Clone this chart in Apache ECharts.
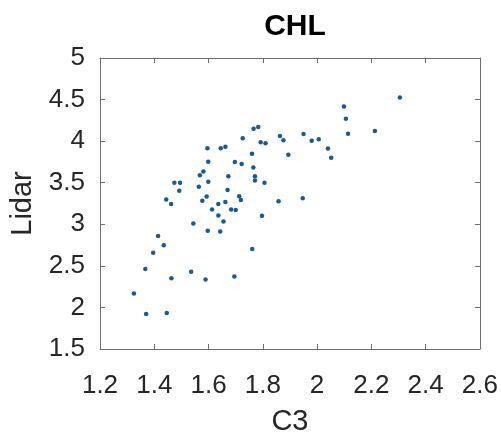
<!DOCTYPE html>
<html>
<head>
<meta charset="utf-8">
<script src="https://cdn.jsdelivr.net/npm/echarts@6/dist/echarts.min.js"></script>
<style>html,body{margin:0;padding:0;background:#fff;}#c{width:501px;height:441px;}</style>
</head>
<body>
<div id="c"></div>
<script>
const titleText = "CHL";
const xName = "C3";
const yName = "Lidar";
const xTicks = [1.2, 1.4, 1.6, 1.8, 2.0, 2.2, 2.4, 2.6];
const yTicks = [1.5, 2, 2.5, 3, 3.5, 4, 4.5, 5];
const c3 = [2.305, 2.099, 2.106, 2.114, 2.213, 1.980, 2.006, 2.040, 2.052, 1.950,
  1.863, 1.876, 1.894, 1.766, 1.783, 1.726, 1.792, 1.810, 1.760, 1.645,
  1.662, 1.596, 1.599, 1.697, 1.722, 1.765, 1.581, 1.568, 1.673, 1.771,
  1.771, 1.806, 1.474, 1.495, 1.599, 1.492, 1.564, 1.670, 1.713, 1.719,
  1.593, 1.444, 1.462, 1.577, 1.636, 1.662, 1.858, 1.947, 1.613, 1.683,
  1.700, 1.636, 1.655, 1.797, 1.544, 1.597, 1.643, 1.414, 1.435, 1.396,
  1.761, 1.367, 1.536, 1.463, 1.589, 1.695, 1.325, 1.370, 1.446];
const lidar = [4.524, 4.416, 4.268, 4.089, 4.122, 4.006, 4.023, 3.913, 3.800, 4.086,
  4.062, 4.011, 3.835, 4.148, 4.169, 4.035, 3.987, 3.975, 3.847, 3.915,
  3.934, 3.915, 3.752, 3.748, 3.724, 3.684, 3.636, 3.591, 3.579, 3.579,
  3.527, 3.501, 3.501, 3.501, 3.511, 3.403, 3.450, 3.412, 3.337, 3.292,
  3.334, 3.298, 3.245, 3.283, 3.245, 3.268, 3.278, 3.313, 3.179, 3.179,
  3.173, 3.107, 3.033, 3.104, 3.010, 2.922, 2.914, 2.859, 2.749, 2.658,
  2.704, 2.463, 2.430, 2.350, 2.335, 2.371, 2.167, 1.920, 1.934];

const pts = c3.map((x, i) => [x, lidar[i]]);
const FONT = "Liberation Sans";
const axisColor = "#6e6e6e";
const labelColor = "#262626";
const xmin = xTicks[0], xmax = xTicks[xTicks.length - 1];
const ymin = yTicks[0], ymax = yTicks[yTicks.length - 1];
const fmt = v => {
  const r = Math.round(v * 10) / 10;
  return Number.isInteger(r) ? String(r) : r.toFixed(1);
};

const chart = echarts.init(document.getElementById('c'), null, {renderer: 'canvas'});
const baseX = {
  type: 'value', min: xmin, max: xmax, interval: 0.2,
  axisLine: {show: true, onZero: false, lineStyle: {color: axisColor, width: 1}},
  axisTick: {show: true, inside: true, length: 5, lineStyle: {color: axisColor}},
  splitLine: {show: false}
};
const baseY = {
  type: 'value', min: ymin, max: ymax, interval: 0.5,
  axisLine: {show: true, onZero: false, lineStyle: {color: axisColor, width: 1}},
  axisTick: {show: true, inside: true, length: 5, lineStyle: {color: axisColor}},
  splitLine: {show: false}
};
chart.setOption({
  animation: false,
  backgroundColor: '#ffffff',
  title: {
    text: titleText, left: 290, top: 7, textAlign: 'center',
    textStyle: {fontFamily: FONT, fontSize: 30, fontWeight: 'bold', color: '#000'}
  },
  grid: {left: 100, right: 21, top: 58, bottom: 90, containLabel: false},
  xAxis: [
    Object.assign({}, baseX, {
      position: 'bottom', name: xName, nameLocation: 'middle', nameGap: 58,
      nameTextStyle: {fontFamily: FONT, fontSize: 29, color: labelColor},
      axisLabel: {show: true, margin: 24, fontFamily: FONT, fontSize: 26, color: labelColor, formatter: fmt}
    }),
    Object.assign({}, baseX, {position: 'top', axisLabel: {show: false}})
  ],
  yAxis: [
    Object.assign({}, baseY, {
      position: 'left', name: yName, nameLocation: 'middle', nameGap: 58,
      nameTextStyle: {fontFamily: FONT, fontSize: 29, color: labelColor},
      axisLabel: {show: true, margin: 15, fontFamily: FONT, fontSize: 26, color: labelColor, formatter: fmt}
    }),
    Object.assign({}, baseY, {position: 'right', axisLabel: {show: false}})
  ],
  series: [{
    type: 'scatter', xAxisIndex: 0, yAxisIndex: 0,
    data: pts, symbol: 'circle', symbolSize: 4.5,
    itemStyle: {color: '#1a5a8c', opacity: 1}
  }]
});
</script>
</body>
</html>
